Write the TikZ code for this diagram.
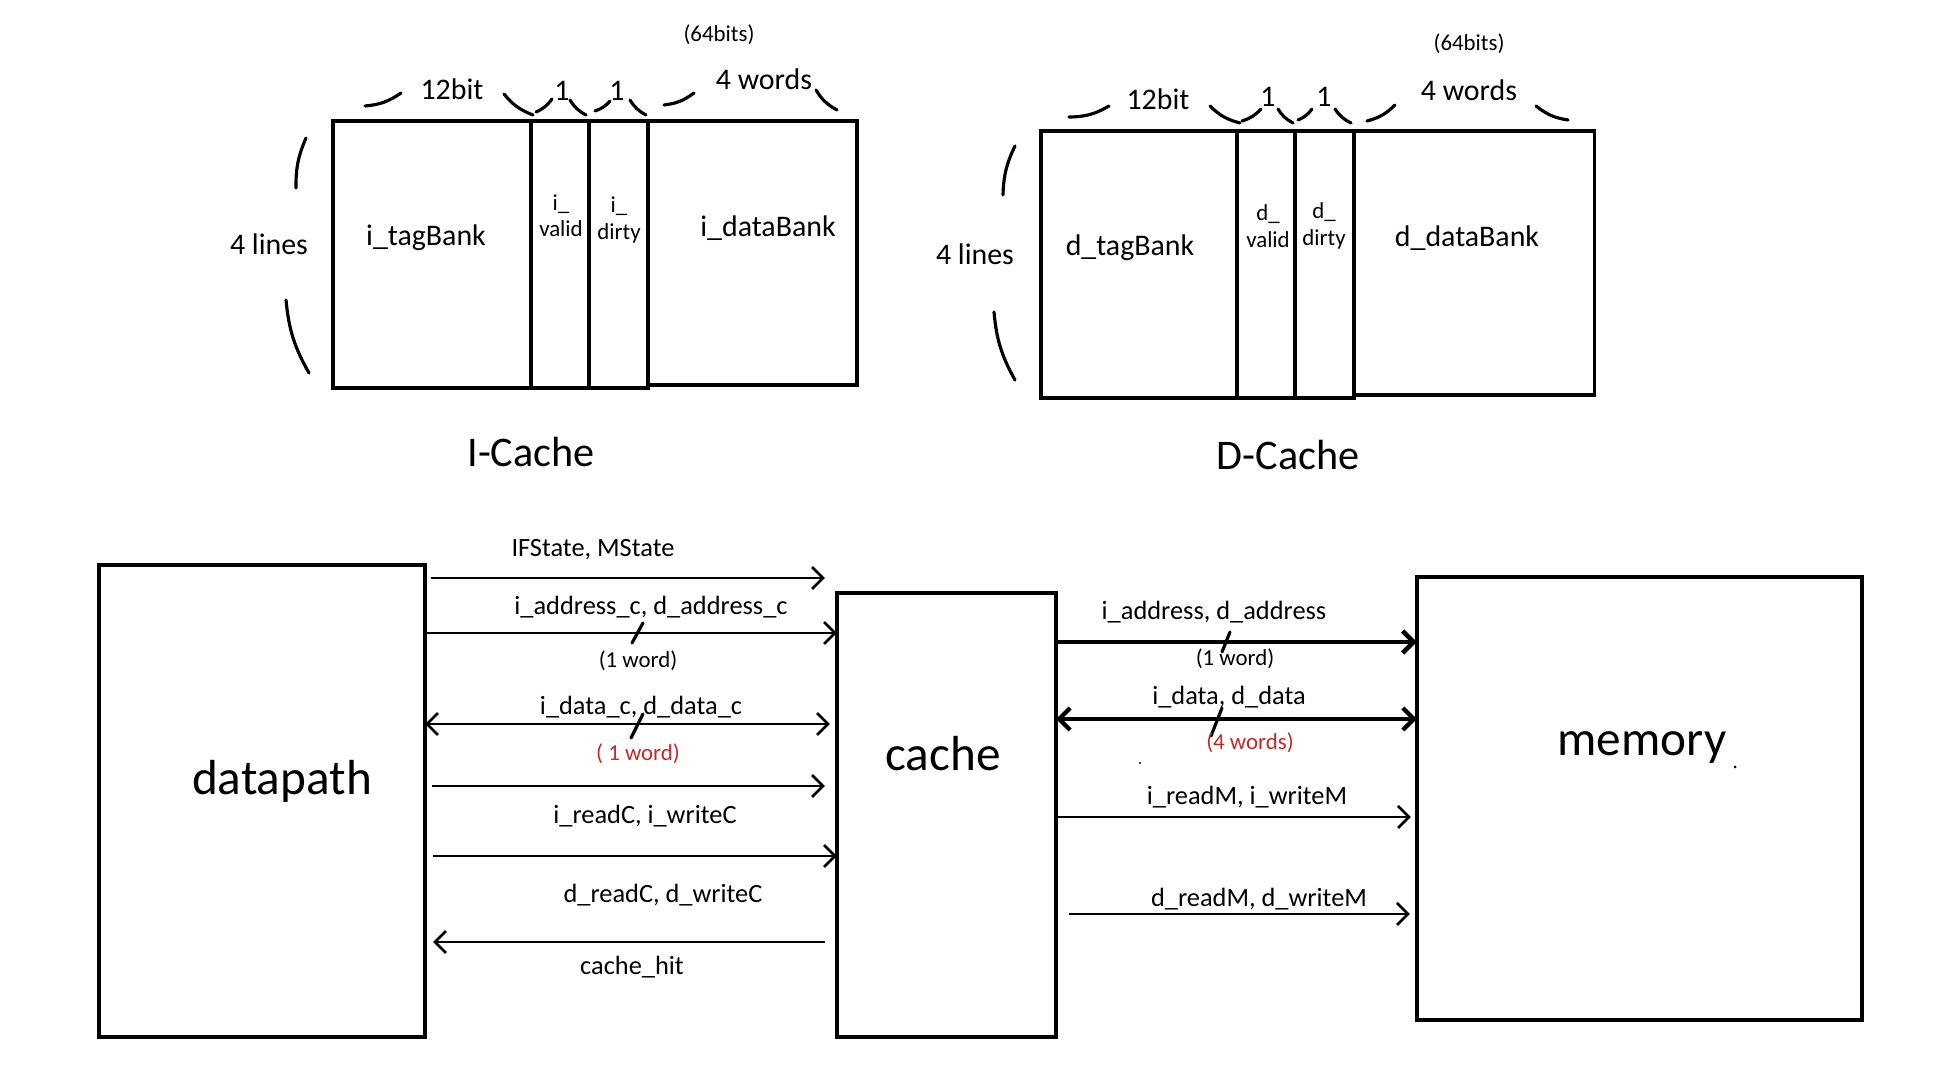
\documentclass[tikz,border=0pt]{standalone}
\usepackage{fontspec}
\setmainfont{Carlito}
\usetikzlibrary{arrows.meta}
\definecolor{penred}{HTML}{C62828}

\tikzset{
  cell/.style={draw, line width=1pt, inner sep=0pt, outer sep=0pt},
  hand/.style={line width=0.9pt, line cap=round},
  sig/.style={line width=0.75pt, -{Straight Barb[length=1.1mm,width=2.2mm]}},
  sigboth/.style={line width=0.75pt, {Straight Barb[length=1.1mm,width=2.2mm]}-{Straight Barb[length=1.1mm,width=2.2mm]}},
  sigback/.style={line width=0.75pt, {Straight Barb[length=1.1mm,width=2.2mm]}-},
  lbl/.style={font=\fontsize{7.5}{9}\selectfont},
  small/.style={font=\fontsize{6.5}{7.5}\selectfont},
  bank/.style={font=\fontsize{8.5}{10}\selectfont},
  thin/.style={font=\fontsize{6.5}{7.5}\selectfont, align=center},
  title/.style={font=\fontsize{12}{14}\selectfont},
  big/.style={font=\fontsize{14}{16}\selectfont}
}

\begin{document}
\begin{tikzpicture}[x=0.01cm,y=-0.01cm]
	\useasboundingbox (0,0) rectangle (1936,1074);

	% I-Cache
	\node[cell, minimum width=1.98cm, minimum height=2.67cm] (itag) at (432,254.5) {};
	\node[cell, minimum width=0.58cm, minimum height=2.67cm, anchor=north west] (ivalid) at (itag.north east) {};
	\node[cell, minimum width=0.59cm, minimum height=2.67cm, anchor=north west] (idirty) at (ivalid.north east) {};
	\node[cell, minimum width=2.09cm, minimum height=2.64cm, anchor=north west] (idata) at (idirty.north east) {};
	\node[bank] (itagtxt) at (426,238) {i\_tagBank};
	\node[thin] (ivalidtxt) at (561,216) {i\_\\valid};
	\node[thin] (idirtytxt) at (619,220) {i\_\\dirty};
	\node[bank] (idatatxt) at (768,228) {i\_dataBank};
	\node[title] (ititle) at (531,452) {I-Cache};
	% widths above the I-Cache
	\draw[hand] (365,106) to[bend right=15] (401,93);
	\draw[hand] (504,94) to[bend right=15] (533,115);
	\node[bank] (ibits) at (452,89) {12bit};
	\draw[hand] (536,112) to[bend right=15] (552,99);
	\draw[hand] (570,100) to[bend right=15] (586,115);
	\node[bank] (ione) at (562,91) {1};
	\draw[hand] (595,111) to[bend right=15] (610,101);
	\draw[hand] (630,100) to[bend right=15] (646,115);
	\node[bank] (itwo) at (617,91) {1};
	\draw[hand] (664,105) to[bend right=15] (694,93);
	\draw[hand] (816,90) to[bend right=15] (837,110);
	\node[bank] (iwords) at (764,79) {4 words};
	\node[small] (ibits64) at (719,35) {(64bits)};
	% lines beside the I-Cache
	\draw[hand] (306,138) to[bend right=12] (296,188);
	\draw[hand] (286,300) to[bend right=12] (309,373);
	\node[bank] (ilines) at (269,244) {4 lines};

	% D-Cache
	\node[cell, minimum width=1.96cm, minimum height=2.67cm] (dtag) at (1139,264.5) {};
	\node[cell, minimum width=0.58cm, minimum height=2.67cm, anchor=north west] (dvalid) at (dtag.north east) {};
	\node[cell, minimum width=0.59cm, minimum height=2.67cm, anchor=north west] (ddirty) at (dvalid.north east) {};
	\node[cell, minimum width=2.40cm, minimum height=2.64cm, anchor=north west] (ddata) at (ddirty.north east) {};
	\node[bank] (dtagtxt) at (1130,248) {d\_tagBank};
	\node[thin] (dvalidtxt) at (1268,226) {d\_\\valid};
	\node[thin] (ddirtytxt) at (1324,226) {d\_\\dirty};
	\node[bank] (ddatatxt) at (1467,238) {d\_dataBank};
	\node[title] (dtitle) at (1288,455) {D-Cache};
	% widths above the D-Cache
	\draw[hand] (1069,117) to[bend right=15] (1109,106);
	\draw[hand] (1210,106) to[bend right=15] (1240,123);
	\node[bank] (dbits) at (1158,99) {12bit};
	\draw[hand] (1242,121) to[bend right=15] (1261,109);
	\draw[hand] (1278,109) to[bend right=15] (1293,123);
	\node[bank] (done) at (1268,97) {1};
	\draw[hand] (1298,120) to[bend right=15] (1312,109);
	\draw[hand] (1335,109) to[bend right=15] (1351,123);
	\node[bank] (dtwo) at (1324,97) {1};
	\draw[hand] (1367,121) to[bend right=15] (1395,105);
	\draw[hand] (1536,106) to[bend right=15] (1568,120);
	\node[bank] (dwords) at (1469,90) {4 words};
	\node[small] (dbits64) at (1469,44) {(64bits)};
	% lines beside the D-Cache
	\draw[hand] (1015,146) to[bend right=12] (1003,195);
	\draw[hand] (994,312) to[bend right=12] (1015,380);
	\node[bank] (dlines) at (975,254) {4 lines};

	% datapath / cache / memory
	\node[cell, minimum width=3.26cm, minimum height=4.72cm] (dp) at (262,801) {};
	\node[cell, minimum width=2.19cm, minimum height=4.44cm] (cache) at (946.5,815) {};
	\node[cell, minimum width=4.45cm, minimum height=4.43cm] (mem) at (1639.5,798.5) {};
	\node[big] (dptxt) at (282,781) {datapath};
	\node[big] (cachetxt) at (943,754) {cache};
	\node[big] (memtxt) at (1642,748) {memory};
	\fill (1735,767) circle (1.5);

	% datapath <-> cache
	\coordinate (l1) at (0,578);
	\coordinate (l2) at (0,633);
	\coordinate (l3) at (0,724);
	\coordinate (l4) at (0,786);
	\coordinate (l5) at (0,856);
	\coordinate (l6) at (0,942);
	\draw[sig] ([xshift=0.06cm]dp.east |- l1) -- ([xshift=-0.12cm]cache.west |- l1);
	\draw[sig] ([xshift=0.02cm]dp.east |- l2) -- (cache.west |- l2);
	\draw[sigboth] (dp.east |- l3) -- ([xshift=-0.07cm]cache.west |- l3);
	\draw[sig] ([xshift=0.07cm]dp.east |- l4) -- ([xshift=-0.12cm]cache.west |- l4);
	\draw[sig] ([xshift=0.08cm]dp.east |- l5) -- (cache.west |- l5);
	\draw[sigback] ([xshift=0.08cm]dp.east |- l6) -- ([xshift=-0.12cm]cache.west |- l6);
	\draw[hand] (632,643) -- (643,623);
	\draw[hand] (631,738) -- (643,714);
	\node[lbl] (t1) at (593,550) {IFState, MState};
	\node[lbl] (t2) at (651,607) {i\_address\_c, d\_address\_c};
	\node[small] (t2w) at (638,661) {(1 word)};
	\node[lbl] (t3) at (641,707) {i\_data\_c, d\_data\_c};
	\node[small, text=penred] (t3w) at (638,754) {( 1 word)};
	\node[lbl] (t4) at (645,816) {i\_readC, i\_writeC};
	\node[lbl] (t5) at (663,895) {d\_readC, d\_writeC};
	\node[lbl] (t6) at (632,967) {cache\_hit};

	% cache <-> memory
	\coordinate (r1) at (0,642);
	\coordinate (r2) at (0,719);
	\coordinate (r3) at (0,817);
	\coordinate (r4) at (0,914);
	\draw[sig, line width=1.3pt] ([xshift=0.02cm]cache.east |- r1) -- (mem.west |- r1);
	\draw[sigboth, line width=1.2pt] (cache.east |- r2) -- (mem.west |- r2);
	\draw[sig] ([xshift=0.02cm]cache.east |- r3) -- ([xshift=-0.06cm]mem.west |- r3);
	\draw[sig] ([xshift=0.13cm]cache.east |- r4) -- ([xshift=-0.07cm]mem.west |- r4);
	\draw[hand] (1222,652) -- (1230,632);
	\draw[hand] (1211,736) -- (1222,708);
	\fill (1140,763) circle (1.2);
	\node[lbl] (u1) at (1214,612) {i\_address, d\_address};
	\node[small] (u1w) at (1235,659) {(1 word)};
	\node[lbl] (u2) at (1229,697) {i\_data, d\_data};
	\node[small, text=penred] (u2w) at (1250,743) {(4 words)};
	\node[lbl] (u3) at (1247,797) {i\_readM, i\_writeM};
	\node[lbl] (u4) at (1259,899) {d\_readM, d\_writeM};
\end{tikzpicture}
\end{document}
